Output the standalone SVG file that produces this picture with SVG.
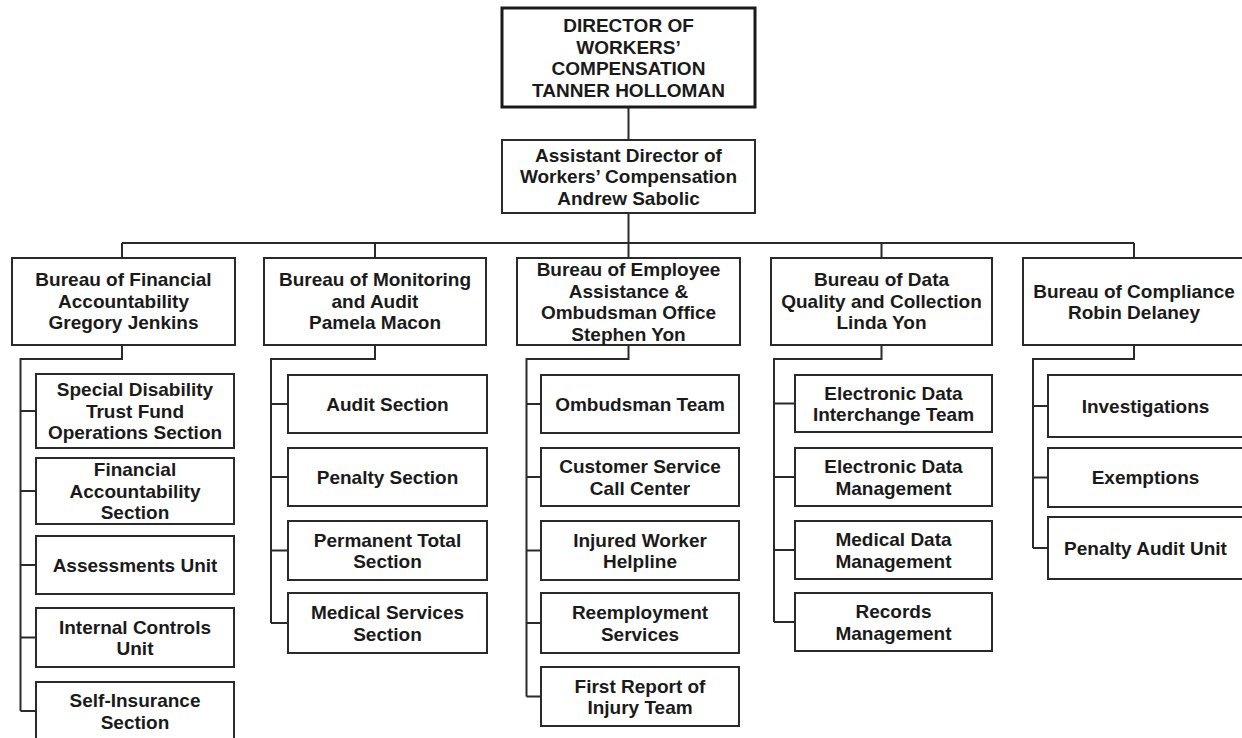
<svg xmlns="http://www.w3.org/2000/svg" width="1242" height="738" viewBox="0 0 1242 738">
<style>
.box{fill:#fff;stroke:#2a2a2a;stroke-width:2}
.top{fill:#fff;stroke:#1a1a1a;stroke-width:3}
.t{font-family:"Liberation Sans",Arial,sans-serif;font-weight:bold;font-size:19px;fill:#1a1a1a;text-anchor:middle}
.c{fill:none;stroke:#2a2a2a;stroke-width:2}
</style>
<rect width="1242" height="738" fill="#fff"/>
<g id="connectors">
<path class="c" d="M628.5,107V140M628.5,213V258M122,243H1134M122,243V258M375,243V258M881.5,243V258M1134,243V258"/>
<path class="c" d="M122,345V359H20.5V711M20.5,411H36M20.5,491H36M20.5,565H36M20.5,637.5H36M20.5,711H36"/>
<path class="c" d="M375,345V359H271V623M271,404H288M271,477H288M271,550.5H288M271,623H288"/>
<path class="c" d="M628.5,345V359H526.5V696.5M526.5,404H541M526.5,477H541M526.5,550.5H541M526.5,623H541M526.5,696.5H541"/>
<path class="c" d="M881.5,345V359H774V622M774,403.5H795M774,477H795M774,550H795M774,622H795"/>
<path class="c" d="M1134,345V359H1033V548M1033,406H1048M1033,477.5H1048M1033,548H1048"/>
</g>
<g id="director"><rect class="top" x="502" y="8" width="253" height="99"/>
<text class="t" x="628.5" y="32">DIRECTOR OF</text><text class="t" x="628.5" y="53.5">WORKERS’</text><text class="t" x="628.5" y="75">COMPENSATION</text><text class="t" x="628.5" y="96.5">TANNER HOLLOMAN</text></g>
<g id="assistant"><rect class="box" x="502" y="140" width="253" height="73"/>
<text class="t" x="628.5" y="161.8">Assistant Director of</text><text class="t" x="628.5" y="183.3">Workers’ Compensation</text><text class="t" x="628.5" y="204.8">Andrew Sabolic</text></g>
<g id="b1"><rect class="box" x="12" y="258" width="223" height="87"/>
<text class="t" x="123.5" y="286.3">Bureau of Financial</text><text class="t" x="123.5" y="307.8">Accountability</text><text class="t" x="123.5" y="329.3">Gregory Jenkins</text></g>
<g id="b2"><rect class="box" x="264" y="258" width="222" height="87"/>
<text class="t" x="375" y="286.3">Bureau of Monitoring</text><text class="t" x="375" y="307.8">and Audit</text><text class="t" x="375" y="329.3">Pamela Macon</text></g>
<g id="b3"><rect class="box" x="517" y="258" width="223" height="87"/>
<text class="t" x="628.5" y="276">Bureau of Employee</text><text class="t" x="628.5" y="297.5">Assistance &amp;</text><text class="t" x="628.5" y="319">Ombudsman Office</text><text class="t" x="628.5" y="340.5">Stephen Yon</text></g>
<g id="b4"><rect class="box" x="771" y="258" width="221" height="87"/>
<text class="t" x="881.5" y="286.3">Bureau of Data</text><text class="t" x="881.5" y="307.8">Quality and Collection</text><text class="t" x="881.5" y="329.3">Linda Yon</text></g>
<g id="b5"><rect class="box" x="1023" y="258" width="222" height="87"/>
<text class="t" x="1134" y="297.5">Bureau of Compliance</text><text class="t" x="1134" y="319">Robin Delaney</text></g>
<g id="b1c1"><rect class="box" x="36" y="374" width="198" height="74"/>
<text class="t" x="135" y="396">Special Disability</text><text class="t" x="135" y="417.5">Trust Fund</text><text class="t" x="135" y="439">Operations Section</text></g>
<g id="b1c2"><rect class="box" x="36" y="458" width="198" height="66"/>
<text class="t" x="135" y="476">Financial</text><text class="t" x="135" y="497.5">Accountability</text><text class="t" x="135" y="519">Section</text></g>
<g id="b1c3"><rect class="box" x="36" y="536" width="198" height="58"/>
<text class="t" x="135" y="571.8">Assessments Unit</text></g>
<g id="b1c4"><rect class="box" x="36" y="608" width="198" height="59"/>
<text class="t" x="135" y="633.6">Internal Controls</text><text class="t" x="135" y="655.1">Unit</text></g>
<g id="b1c5"><rect class="box" x="36" y="682" width="198" height="70"/>
<text class="t" x="135" y="707">Self-Insurance</text><text class="t" x="135" y="728.5">Section</text></g>
<g id="b2c1"><rect class="box" x="288" y="375" width="199" height="58"/>
<text class="t" x="387.5" y="410.8">Audit Section</text></g>
<g id="b2c2"><rect class="box" x="288" y="448" width="199" height="58"/>
<text class="t" x="387.5" y="483.8">Penalty Section</text></g>
<g id="b2c3"><rect class="box" x="288" y="521" width="199" height="59"/>
<text class="t" x="387.5" y="546.6">Permanent Total</text><text class="t" x="387.5" y="568.1">Section</text></g>
<g id="b2c4"><rect class="box" x="288" y="593" width="199" height="60"/>
<text class="t" x="387.5" y="619.1">Medical Services</text><text class="t" x="387.5" y="640.6">Section</text></g>
<g id="b3c1"><rect class="box" x="541" y="375" width="198" height="58"/>
<text class="t" x="640" y="410.8">Ombudsman Team</text></g>
<g id="b3c2"><rect class="box" x="541" y="448" width="198" height="58"/>
<text class="t" x="640" y="473.1">Customer Service</text><text class="t" x="640" y="494.6">Call Center</text></g>
<g id="b3c3"><rect class="box" x="541" y="521" width="198" height="59"/>
<text class="t" x="640" y="546.6">Injured Worker</text><text class="t" x="640" y="568.1">Helpline</text></g>
<g id="b3c4"><rect class="box" x="541" y="593" width="198" height="60"/>
<text class="t" x="640" y="619.1">Reemployment</text><text class="t" x="640" y="640.6">Services</text></g>
<g id="b3c5"><rect class="box" x="541" y="667" width="198" height="59"/>
<text class="t" x="640" y="692.6">First Report of</text><text class="t" x="640" y="714.1">Injury Team</text></g>
<g id="b4c1"><rect class="box" x="795" y="375" width="197" height="57"/>
<text class="t" x="893.5" y="399.6">Electronic Data</text><text class="t" x="893.5" y="421.1">Interchange Team</text></g>
<g id="b4c2"><rect class="box" x="795" y="448" width="197" height="58"/>
<text class="t" x="893.5" y="473.1">Electronic Data</text><text class="t" x="893.5" y="494.6">Management</text></g>
<g id="b4c3"><rect class="box" x="795" y="521" width="197" height="58"/>
<text class="t" x="893.5" y="546.1">Medical Data</text><text class="t" x="893.5" y="567.6">Management</text></g>
<g id="b4c4"><rect class="box" x="795" y="593" width="197" height="58"/>
<text class="t" x="893.5" y="618.1">Records</text><text class="t" x="893.5" y="639.6">Management</text></g>
<g id="b5c1"><rect class="box" x="1048" y="375" width="196" height="62"/>
<text class="t" x="1145.5" y="412.8">Investigations</text></g>
<g id="b5c2"><rect class="box" x="1048" y="448" width="196" height="59"/>
<text class="t" x="1145.5" y="484.3">Exemptions</text></g>
<g id="b5c3"><rect class="box" x="1048" y="517" width="196" height="62"/>
<text class="t" x="1145.5" y="554.8">Penalty Audit Unit</text></g>
</svg>
